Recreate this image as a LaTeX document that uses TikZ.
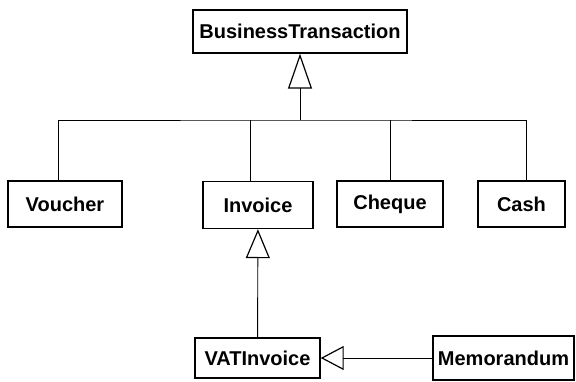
\documentclass[tikz,border=0pt]{standalone}
\usepackage{fontspec}
\setmainfont{Liberation Sans}
\usetikzlibrary{arrows.meta}

\tikzset{
    cls/.style={draw, line width=1.4pt, fill=white, inner sep=0pt,
        font=\fontsize{20}{24}\selectfont\bfseries},
    gen/.style={line width=0.9pt,
        -{Triangle[open, length=#1, width=24pt, line width=1.2pt]}},
    gen/.default=30pt
}

\begin{document}
\begin{tikzpicture}[x=1pt, y=-1pt]
    \useasboundingbox (0,0) rectangle (576,382);

    % classes
    \node[cls, minimum width=214pt, minimum height=43pt] (bt) at (300,31.5) {BusinessTransaction};
    \node[cls, minimum width=114pt, minimum height=46pt] (voucher) at (65,204) {Voucher};
    \node[cls, minimum width=110pt, minimum height=47pt] (invoice) at (258,205) {Invoice};
    \node[cls, minimum width=106pt, minimum height=46pt] (cheque) at (390,204) {Cheque};
    \node[cls, minimum width=87pt, minimum height=46pt] (cash) at (521.5,204) {Cash};
    \node[cls, minimum width=125pt, minimum height=40pt] (vat) at (257.5,358) {VATInvoice};
    \node[cls, minimum width=141pt, minimum height=44pt] (memo) at (503.5,358) {Memorandum};

    % generalisation tree
    \coordinate (bar) at (300,120);
    \draw[gen=35pt] (bar) -- (bt.south);
    \draw[line width=0.9pt] ([xshift=-7pt]voucher.north) |- (bar) -| ([xshift=4.5pt]cash.north);
    \draw[line width=0.9pt] ([xshift=-8pt]invoice.north) -- ([xshift=-8pt]invoice.north |- bar);
    \draw[line width=0.9pt] (cheque.north) -- (cheque.north |- bar);

    % sub classes
    \draw[gen=29pt] (vat) -- (invoice);
    \draw[gen=23pt] (memo) -- (vat);
\end{tikzpicture}
\end{document}
